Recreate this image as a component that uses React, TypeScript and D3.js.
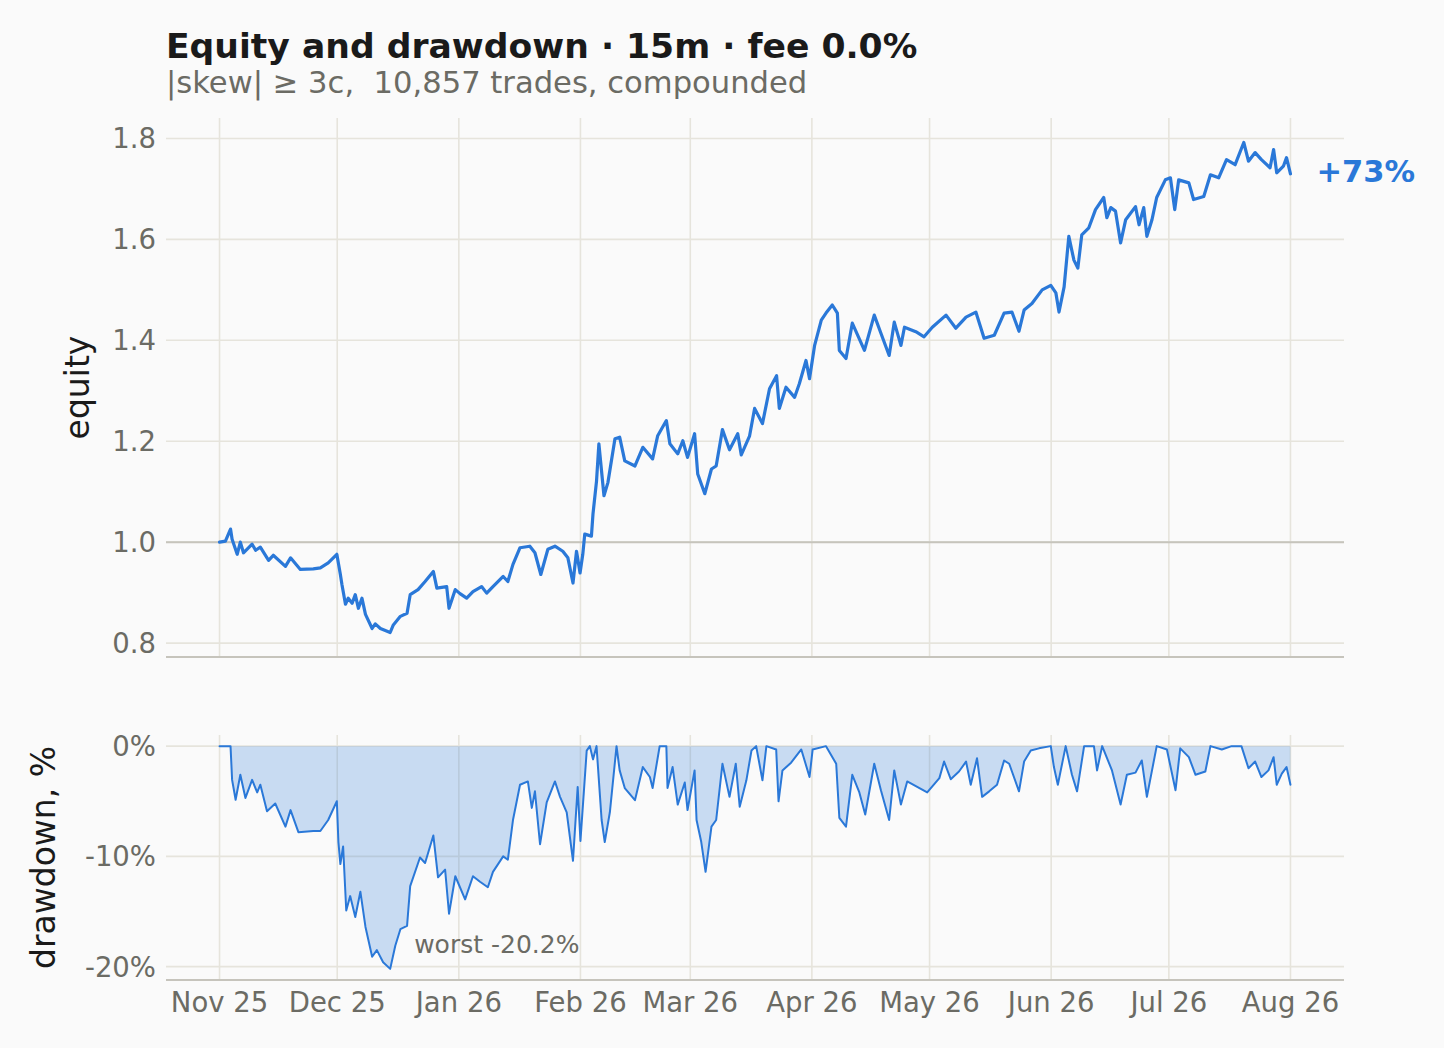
import * as d3 from "d3";

// equity curve, [days since 2025-11-01, equity multiple]
const equity: [number, number][] = [
  [0, 1.0], [1.5, 1.002], [2.8, 1.026], [3.2, 1.006], [4.5, 0.976], [5.3, 1.0], [6.1, 0.979],
  [8.3, 0.996], [9.2, 0.984], [10.4, 0.99], [12.5, 0.964], [13.7, 0.974], [16.8, 0.952],
  [18.1, 0.969], [20.6, 0.946], [23.9, 0.947], [25.7, 0.949], [27.7, 0.959], [29.9, 0.976],
  [30.8, 0.936], [31.2, 0.916], [32.1, 0.877], [32.8, 0.889], [33.8, 0.879], [34.6, 0.896],
  [35.4, 0.869], [36.3, 0.889], [37.2, 0.857], [38.9, 0.829], [39.7, 0.838], [41.0, 0.829],
  [43.5, 0.821], [44.3, 0.836], [46.1, 0.853], [47.8, 0.859], [48.6, 0.896], [50.6, 0.906],
  [52.4, 0.922], [54.5, 0.942], [55.4, 0.909], [57.9, 0.912], [58.5, 0.869], [60.1, 0.906],
  [61.3, 0.898], [63.0, 0.889], [64.6, 0.902], [66.8, 0.912], [68.1, 0.899], [69.7, 0.912],
  [72.3, 0.932], [73.5, 0.922], [74.8, 0.956], [76.6, 0.989], [79.1, 0.992], [80.4, 0.979],
  [81.9, 0.936], [83.7, 0.986], [85.5, 0.992], [87.5, 0.982], [88.8, 0.969], [90.1, 0.919],
  [91.0, 0.982], [91.9, 0.939], [92.6, 0.976], [93.1, 1.016], [94.8, 1.012], [95.2, 1.056],
  [96.1, 1.121], [96.7, 1.195], [98.0, 1.092], [99.0, 1.118], [100.8, 1.205], [102.0, 1.208],
  [103.3, 1.161], [105.9, 1.151], [107.9, 1.188], [110.4, 1.165], [111.7, 1.211], [113.9, 1.241],
  [114.8, 1.195], [116.8, 1.175], [118.1, 1.201], [119.3, 1.168], [121.1, 1.215], [121.9, 1.135],
  [123.7, 1.096], [125.4, 1.145], [126.6, 1.151], [128.2, 1.223], [130.0, 1.183], [132.1, 1.215],
  [133.0, 1.173], [135.1, 1.21], [136.4, 1.265], [138.4, 1.235], [140.2, 1.304], [142.0, 1.33],
  [142.7, 1.265], [144.4, 1.307], [146.6, 1.287], [147.8, 1.314], [149.5, 1.36], [150.4, 1.324],
  [151.7, 1.39], [153.4, 1.44], [154.6, 1.454], [156.2, 1.47], [157.5, 1.454], [158.0, 1.38],
  [159.7, 1.364], [161.3, 1.434], [164.4, 1.38], [166.9, 1.45], [168.6, 1.414], [170.7, 1.37],
  [172.0, 1.436], [173.7, 1.39], [174.6, 1.426], [177.5, 1.417], [179.6, 1.407], [181.7, 1.426],
  [185.2, 1.45], [187.7, 1.424], [190.3, 1.446], [192.8, 1.456], [194.9, 1.404], [197.5, 1.41],
  [200.0, 1.454], [202.0, 1.456], [203.8, 1.418], [205.1, 1.46], [207.1, 1.473], [209.7, 1.5],
  [211.9, 1.509], [213.2, 1.494], [214.0, 1.456], [215.3, 1.506], [216.5, 1.606], [217.8, 1.559],
  [218.8, 1.543], [219.8, 1.609], [221.6, 1.623], [223.3, 1.659], [225.4, 1.683], [226.2, 1.643],
  [227.2, 1.663], [228.4, 1.656], [229.7, 1.593], [231.0, 1.639], [233.5, 1.665], [234.4, 1.629],
  [235.6, 1.663], [236.4, 1.606], [237.7, 1.639], [238.9, 1.683], [241.1, 1.718], [242.4, 1.722],
  [243.5, 1.659], [244.5, 1.718], [247.1, 1.712], [248.3, 1.679], [250.9, 1.685], [252.6, 1.728],
  [254.7, 1.722], [256.7, 1.758], [258.9, 1.748], [261.1, 1.792], [262.3, 1.755], [264.0, 1.772],
  [265.6, 1.758], [267.8, 1.742], [268.7, 1.778], [269.5, 1.732], [271.2, 1.745], [272.0, 1.762],
  [273.0, 1.73],
];

// drawdown from running peak, [days, percent]
const drawdown: [number, number][] = [
  [0, 0], [2.8, 0], [3.2, -3.06], [4.1, -4.86], [5.3, -2.6], [6.6, -4.7], [8.3, -3.06], [9.6, -4.2],
  [10.4, -3.5], [12.1, -5.9], [14.2, -5.2], [16.8, -7.3], [18.1, -5.8], [20.1, -7.8], [23.9, -7.7],
  [25.7, -7.7], [27.7, -6.7], [29.9, -5.0], [30.3, -8.7], [30.8, -10.7], [31.5, -9.1], [32.3, -14.9],
  [33.3, -13.6], [34.6, -15.5], [35.9, -13.2], [37.2, -16.4], [38.9, -19.1], [40.1, -18.5],
  [41.7, -19.6], [43.5, -20.2], [44.8, -18.1], [46.1, -16.6], [47.8, -16.3], [48.6, -12.7],
  [51.1, -10.1], [52.4, -10.6], [54.5, -8.1], [55.7, -11.9], [57.5, -11.2], [58.5, -15.2],
  [60.1, -11.8], [62.6, -13.9], [64.6, -11.8], [66.4, -12.3], [68.4, -12.8], [69.7, -11.4],
  [72.3, -10.0], [73.5, -10.3], [74.8, -6.7], [76.6, -3.5], [78.6, -3.2], [79.6, -5.6], [80.4, -4.1],
  [81.7, -8.9], [83.4, -5.1], [85.5, -3.2], [86.8, -4.6], [88.5, -6.0], [90.1, -10.4], [91.3, -3.7],
  [92.0, -8.6], [93.6, -0.4], [94.4, 0], [95.2, -1.2], [96.1, 0], [97.4, -6.7], [98.2, -8.7],
  [99.5, -6.0], [101.2, 0], [102.0, -2.2], [103.3, -3.8], [105.9, -4.9], [107.9, -1.9], [109.7, -2.8],
  [110.4, -3.8], [112.2, 0], [113.9, 0], [114.2, -3.8], [115.5, -1.9], [116.8, -5.3], [118.6, -3.3],
  [119.3, -5.8], [121.1, -2.2], [121.6, -6.7], [122.8, -8.7], [123.9, -11.4], [125.4, -7.3],
  [126.6, -6.7], [128.2, -1.6], [130.0, -4.6], [131.6, -1.6], [132.6, -5.5], [134.3, -3.1],
  [135.6, -0.4], [136.8, 0], [138.4, -3.1], [139.4, 0], [141.9, -0.3], [142.5, -5.0], [143.5, -2.2],
  [145.7, -1.5], [148.3, -0.3], [150.4, -2.8], [151.2, -0.3], [154.6, 0], [157.2, -1.6], [158.0, -6.5],
  [159.7, -7.3], [161.3, -2.6], [163.1, -4.2], [164.6, -6.2], [166.9, -1.6], [168.6, -4.0],
  [170.7, -6.7], [172.0, -2.2], [173.7, -5.3], [175.3, -3.2], [180.4, -4.2], [183.5, -2.9],
  [184.7, -1.4], [186.4, -3.0], [188.5, -2.3], [190.3, -1.4], [191.5, -3.5], [193.1, -1.1],
  [194.4, -4.6], [196.2, -4.1], [198.2, -3.5], [200.0, -1.3], [201.3, -1.6], [203.8, -4.1],
  [205.1, -1.4], [206.8, -0.4], [208.9, -0.2], [211.9, 0], [212.7, -1.9], [213.7, -3.5], [215.7, 0],
  [217.3, -2.6], [218.6, -4.1], [220.4, 0], [222.9, 0], [223.7, -2.2], [225.0, 0], [227.5, -2.2],
  [229.7, -5.3], [231.3, -2.6], [233.5, -2.4], [235.1, -1.3], [236.4, -4.6], [238.9, 0], [241.5, -0.3],
  [243.7, -4.0], [244.9, -0.2], [247.1, -1.0], [248.8, -2.6], [251.3, -2.3], [252.6, 0], [255.5, -0.3],
  [258.0, 0], [260.5, 0], [262.3, -2.0], [264.0, -1.4], [265.6, -2.8], [267.4, -2.2], [268.7, -1.0],
  [269.5, -3.5], [270.8, -2.5], [272.0, -1.9], [273.0, -3.5],
];

const START = new Date(Date.UTC(2025, 10, 1));
const monthTicks = [
  "2025-11-01", "2025-12-01", "2026-01-01", "2026-02-01", "2026-03-01",
  "2026-04-01", "2026-05-01", "2026-06-01", "2026-07-01", "2026-08-01",
];
const equityTicks = [0.8, 1.0, 1.2, 1.4, 1.6, 1.8];
const drawdownTicks = [0, -10, -20];

const W = 1444;
const H = 1048;
const LEFT = 166;
const RIGHT = 1344;
const TOP1 = 118;
const BOT1 = 657;
const TOP2 = 735;
const BOT2 = 980;

const BLUE = "#2a78d8";
const GRID = "#e6e4dc";
const SPINE = "#c6c4bc";
const TICK = "#6b6b64";
const FONT = "DejaVu Sans";
const TICK_FS = 27.5;
const LABEL_FS = 33;

const dayToDate = (d: number) => new Date(START.getTime() + d * 86400000);

const pad = (lo: number, hi: number, m = 0.05): [number, number] => {
  const r = hi - lo;
  return [lo - r * m, hi + r * m];
};

const App = () => {
  const dayExt = d3.extent(equity, (d) => d[0]) as [number, number];
  const [d0, d1] = pad(dayExt[0], dayExt[1]);
  const x = d3.scaleUtc().domain([dayToDate(d0), dayToDate(d1)]).range([LEFT, RIGHT]);

  const eqExt = d3.extent(equity, (d) => d[1]) as [number, number];
  const yEq = d3.scaleLinear().domain(pad(eqExt[0], eqExt[1])).range([BOT1, TOP1]);

  const ddMin = d3.min(drawdown, (d) => d[1]) ?? 0;
  const yDd = d3.scaleLinear().domain(pad(ddMin, 0)).range([BOT2, TOP2]);

  const eqLine = d3
    .line<[number, number]>()
    .x((d) => x(dayToDate(d[0])))
    .y((d) => yEq(d[1]));

  const ddLine = d3
    .line<[number, number]>()
    .x((d) => x(dayToDate(d[0])))
    .y((d) => yDd(d[1]));

  const ddArea = d3
    .area<[number, number]>()
    .x((d) => x(dayToDate(d[0])))
    .y0(yDd(0))
    .y1((d) => yDd(d[1]));

  const fmtMonth = d3.utcFormat("%b %y");
  const ticks = monthTicks.map((s) => new Date(s + "T00:00:00Z"));

  const last = equity[equity.length - 1];
  const totalPct = Math.round((last[1] - 1) * 100);
  const worst = drawdown.reduce((a, b) => (b[1] < a[1] ? b : a));

  const vGrid = (top: number, bottom: number) =>
    ticks.map((t, i) => (
      <line key={i} x1={x(t)} x2={x(t)} y1={top} y2={bottom} stroke={GRID} strokeWidth={1.6} />
    ));

  return (
    <div style={{ position: "fixed", left: 0, top: 0 }}>
      <svg width={W} height={H} style={{ display: "block", background: "#fafafa" }} fontFamily={FONT}>
        <rect width={W} height={H} fill="#fafafa" />

        {/* titles */}
        <text x={LEFT} y={58} fontSize={34.6} fontWeight="bold" fill="#1a1a1a">
          Equity and drawdown · 15m · fee 0.0%
        </text>
        <text x={LEFT} y={93} fontSize={30.6} fill={TICK} style={{ whiteSpace: "pre" }}>
          {"|skew| ≥ 3c,  10,857 trades, compounded"}
        </text>

        {/* equity panel */}
        {vGrid(TOP1, BOT1)}
        {equityTicks.map((v, i) => (
          <g key={i}>
            <line x1={LEFT} x2={RIGHT} y1={yEq(v)} y2={yEq(v)} stroke={GRID} strokeWidth={1.6} />
            <text
              x={LEFT - 10}
              y={yEq(v) + TICK_FS * 0.36}
              textAnchor="end"
              fontSize={TICK_FS}
              fill={TICK}
            >
              {v.toFixed(1)}
            </text>
          </g>
        ))}
        <line x1={LEFT} x2={RIGHT} y1={yEq(1)} y2={yEq(1)} stroke={SPINE} strokeWidth={2} />
        <line x1={LEFT} x2={RIGHT} y1={BOT1} y2={BOT1} stroke={SPINE} strokeWidth={2} />
        <path
          d={eqLine(equity) ?? ""}
          fill="none"
          stroke={BLUE}
          strokeWidth={3.2}
          strokeLinejoin="round"
          strokeLinecap="round"
        />
        <text
          x={x(dayToDate(last[0])) + 26}
          y={yEq(last[1]) + 30.5 * 0.28}
          fontSize={30.5}
          fontWeight="bold"
          fill={BLUE}
        >
          {`+${totalPct}%`}
        </text>
        <text
          transform={`translate(77,${(TOP1 + BOT1) / 2}) rotate(-90)`}
          textAnchor="middle"
          dominantBaseline="central"
          fontSize={LABEL_FS}
          fill="#1a1a1a"
        >
          equity
        </text>

        {/* drawdown panel */}
        {vGrid(TOP2, BOT2)}
        {drawdownTicks.map((v, i) => (
          <g key={i}>
            <line x1={LEFT} x2={RIGHT} y1={yDd(v)} y2={yDd(v)} stroke={GRID} strokeWidth={1.6} />
            <text
              x={LEFT - 10}
              y={yDd(v) + TICK_FS * 0.36}
              textAnchor="end"
              fontSize={TICK_FS}
              fill={TICK}
            >
              {`${v}%`}
            </text>
          </g>
        ))}
        <path d={ddArea(drawdown) ?? ""} fill={BLUE} fillOpacity={0.24} />
        <path
          d={ddLine(drawdown) ?? ""}
          fill="none"
          stroke={BLUE}
          strokeWidth={2}
          strokeLinejoin="round"
          strokeLinecap="round"
        />
        <line x1={LEFT} x2={RIGHT} y1={BOT2} y2={BOT2} stroke={SPINE} strokeWidth={2} />
        <text
          x={x(dayToDate(worst[0])) + 24}
          y={yDd(worst[1]) - 16}
          fontSize={25}
          fill={TICK}
        >
          {`worst ${worst[1].toFixed(1)}%`}
        </text>
        <text
          transform={`translate(43,${(TOP2 + BOT2) / 2}) rotate(-90)`}
          textAnchor="middle"
          dominantBaseline="central"
          fontSize={LABEL_FS}
          fill="#1a1a1a"
        >
          drawdown, %
        </text>

        {/* x axis */}
        {ticks.map((t, i) => (
          <text key={i} x={x(t)} y={1012} textAnchor="middle" fontSize={TICK_FS} fill={TICK}>
            {fmtMonth(t)}
          </text>
        ))}
      </svg>
    </div>
  );
};

export default App;
